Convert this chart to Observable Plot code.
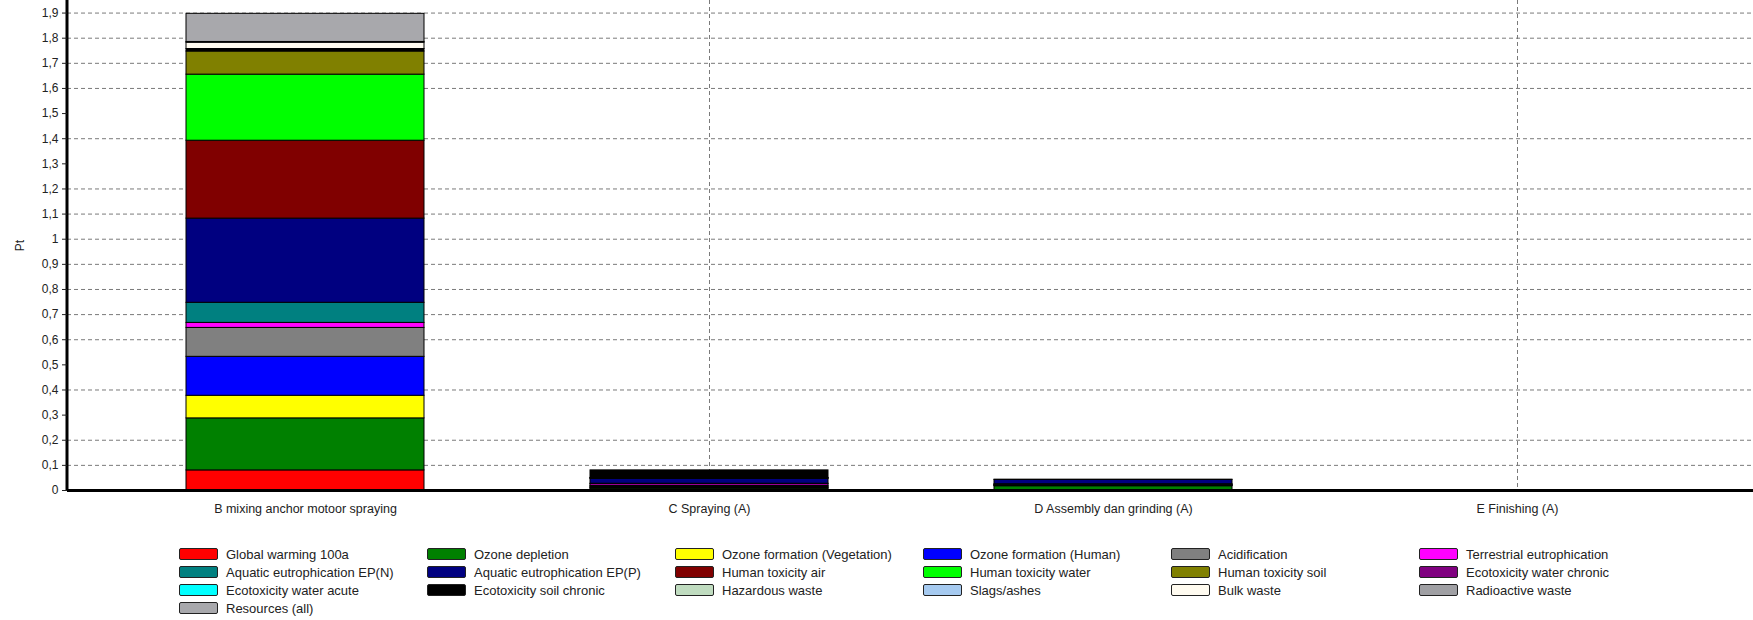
<!DOCTYPE html>
<html>
<head>
<meta charset="utf-8">
<script src="https://cdn.jsdelivr.net/npm/d3@7"></script>
<script src="https://cdn.jsdelivr.net/npm/@observablehq/plot@0.6"></script>
<style>
  html, body { margin: 0; padding: 0; background: #fff; }
  body { width: 1753px; height: 620px; overflow: hidden; font-family: "Liberation Sans", Arial, sans-serif; }
  #chart svg { display: block; }
  #legend {
    display: grid;
    grid-template-columns: repeat(6, 248px);
    grid-auto-rows: 18px;
    margin-left: 179px;
    padding-top: 25px;
    font-size: 13px;
    color: #222;
  }
  .item { display: flex; align-items: center; white-space: nowrap; }
  .sw { width: 37px; height: 10px; border: 1px solid #222; border-radius: 2px; margin-right: 8px; flex: none; }
</style>
</head>
<body>
<div id="chart"></div>
<div id="legend"></div>
<script>
const categories = [
  "B mixing anchor motoor spraying",
  "C Spraying (A)",
  "D Assembly dan grinding (A)",
  "E Finishing (A)"
];
const series = [
  "Global warming 100a", "Ozone depletion", "Ozone formation (Vegetation)", "Ozone formation (Human)",
  "Acidification", "Terrestrial eutrophication", "Aquatic eutrophication EP(N)", "Aquatic eutrophication EP(P)",
  "Human toxicity air", "Human toxicity water", "Human toxicity soil", "Ecotoxicity water chronic",
  "Ecotoxicity water acute", "Ecotoxicity soil chronic", "Hazardous waste", "Slags/ashes",
  "Bulk waste", "Radioactive waste", "Resources (all)"
];
const colors = [
  "#ff0000", "#008000", "#ffff00", "#0000ff",
  "#808080", "#ff00ff", "#008080", "#000080",
  "#800000", "#00ff00", "#808000", "#800080",
  "#00ffff", "#000000", "#c0dcc0", "#a6caf0",
  "#fffbf0", "#a0a0a4", "#a8a8ac"
];
// values (Pt) per category, in series order
const valuesB = [0.08, 0.207, 0.09, 0.155, 0.115, 0.02, 0.08, 0.335, 0.31, 0.263, 0.092, 0, 0, 0.01, 0, 0, 0.025, 0.003, 0.112];
const valuesC = [0.003, 0.005, 0.002, 0.004, 0.004, 0.007, 0.002, 0.019, 0.002, 0.001, 0.001, 0, 0, 0.03, 0, 0, 0, 0, 0];
const valuesD = [0.002, 0.015, 0.001, 0.002, 0.002, 0.001, 0.002, 0.017, 0.001, 0, 0, 0, 0, 0, 0, 0, 0, 0, 0];
const valuesE = [0, 0, 0, 0, 0, 0, 0, 0, 0, 0, 0, 0, 0, 0, 0, 0, 0, 0, 0];
const yTicks = [0, 0.1, 0.2, 0.3, 0.4, 0.5, 0.6, 0.7, 0.8, 0.9, 1, 1.1, 1.2, 1.3, 1.4, 1.5, 1.6, 1.7, 1.8, 1.9];
const yGrid = [0.1, 0.2, 0.4, 0.6, 0.7, 0.8, 0.9, 1, 1.1, 1.2, 1.4, 1.6, 1.7, 1.8, 1.9];
const xGridCats = ["C Spraying (A)", "E Finishing (A)"];
const yLabel = "Pt";

const allValues = [valuesB, valuesC, valuesD, valuesE];
const data = [];
categories.forEach((c, ci) => series.forEach((s, si) => {
  const v = allValues[ci][si];
  if (v > 0) data.push({category: c, impact: s, value: v});
}));

const gridStyle = {stroke: "#7a7a7a", strokeWidth: 1, strokeDasharray: "4,3"};

const leftAxisLine = (index, scales, values, dims) => {
  const g = d3.create("svg:line")
    .attr("x1", dims.marginLeft).attr("x2", dims.marginLeft)
    .attr("y1", 0).attr("y2", dims.height - dims.marginBottom + 1)
    .attr("stroke", "black").attr("stroke-width", 3);
  return g.node();
};

const chart = Plot.plot({
  width: 1753,
  height: 520,
  marginTop: 0,
  marginLeft: 67,
  marginRight: 0,
  marginBottom: 30,
  style: {fontFamily: "Liberation Sans, Arial, sans-serif", color: "#222", background: "#fff"},
  x: {type: "band", domain: categories, range: [103, 1719], paddingInner: 0.41, paddingOuter: 0.205, label: null},
  y: {domain: [0, 1.95], label: null},
  color: {domain: series, range: colors},
  marks: [
    Plot.ruleY(yGrid, gridStyle),
    Plot.ruleX(xGridCats, gridStyle),
    Plot.barY(data, {x: "category", y: "value", fill: "impact", stroke: "black", strokeWidth: 1}),
    Plot.ruleY([0], {stroke: "black", strokeWidth: 3}),
    leftAxisLine,
    Plot.axisY({
      ticks: yTicks,
      tickFormat: d => String(d).replace(".", ","),
      tickSize: 5,
      tickPadding: 4,
      fontSize: 12,
      label: yLabel,
      labelAnchor: "center",
      labelArrow: "none",
      labelOffset: 52
    }),
    Plot.axisX({tickSize: 0, tickPadding: 14, fontSize: 12.5, label: null})
  ]
});
document.getElementById("chart").appendChild(chart);

const legend = d3.select("#legend");
series.forEach((s, i) => {
  const it = legend.append("div").attr("class", "item");
  it.append("div").attr("class", "sw").style("background", colors[i]);
  it.append("span").text(s);
});
</script>
</body>
</html>
